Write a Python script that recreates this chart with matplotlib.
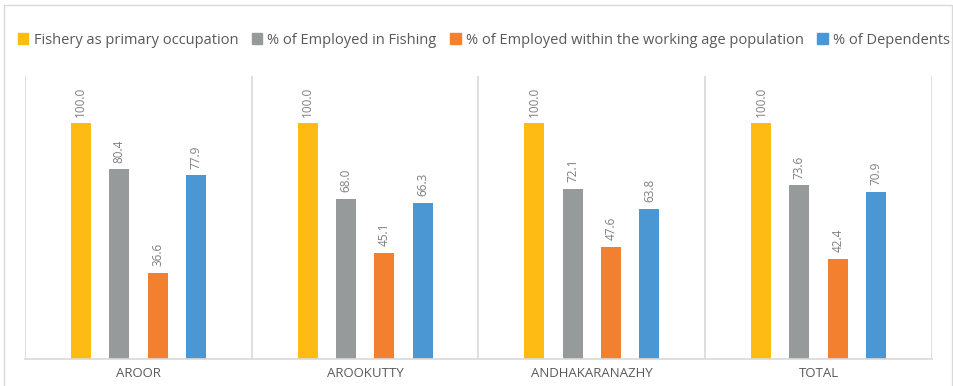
import matplotlib.pyplot as plt
import numpy as np
from matplotlib.lines import Line2D
from matplotlib.patches import Patch

plt.rcParams['font.family'] = ['Open Sans', 'DejaVu Sans']

places = ['AROOR', 'AROOKUTTY', 'ANDHAKARANAZHY', 'TOTAL']
series_names = ['Fishery as primary occupation', '% of Employed in Fishing',
                '% of Employed within the working age population', '% of Dependents']
fishery = [100.0, 100.0, 100.0, 100.0]
employed_fishing = [80.4, 68.0, 72.1, 73.6]
employed_working = [36.6, 45.1, 47.6, 42.4]
dependents = [77.9, 66.3, 63.8, 70.9]
colors = ['#FDBB13', '#969A9A', '#F3802E', '#4B97D3']

W, H = 954, 386
fig = plt.figure(figsize=(W / 100, H / 100), dpi=100)
ax = fig.add_axes([25 / W, (H - 359) / H, (932 - 25) / W, (359 - 76) / H])

x = np.arange(len(places))
offsets = [-0.254, -0.085, 0.085, 0.254]
bw = 0.088
all_series = [fishery, employed_fishing, employed_working, dependents]
for vals, off, c in zip(all_series, offsets, colors):
    bars = ax.bar(x + off, vals, width=bw, color=c, zorder=2)
    for b, v in zip(bars, vals):
        ax.text(b.get_x() + b.get_width() / 2, v + 2.8, f'{v:.1f}', rotation=90,
                ha='center', va='bottom', fontsize=8.5, color='#7F7F7F')

ax.set_xlim(-0.5, len(places) - 0.5)
ax.set_ylim(0, 120)
for sep in np.arange(-0.5, len(places), 1.0):
    ax.axvline(sep, color='#D9D9D9', lw=1.2, zorder=1)
for s in ['top', 'right', 'left']:
    ax.spines[s].set_visible(False)
ax.spines['bottom'].set_color('#D9D9D9')
ax.spines['bottom'].set_linewidth(1.2)
ax.set_yticks([])
ax.set_xticks(x)
ax.set_xticklabels(places, fontsize=9.5, color='#595959')
ax.tick_params(axis='x', length=0, pad=6)

handles = [Patch(color=c) for c in colors]
fig.legend(handles, series_names, loc='center', bbox_to_anchor=(484 / W, 1 - 40 / H),
           ncol=4, frameon=False, fontsize=10.5, labelcolor='#595959',
           handlelength=0.7, handleheight=0.7, handletextpad=0.35, columnspacing=0.95)

# outer chart border
fig.add_artist(Line2D([4 / W, 4 / W, 952 / W, 952 / W], [0, 1 - 5 / H, 1 - 5 / H, 0],
                      transform=fig.transFigure, color='#D9D9D9', lw=1))

fig.savefig('out.png', dpi=100)
